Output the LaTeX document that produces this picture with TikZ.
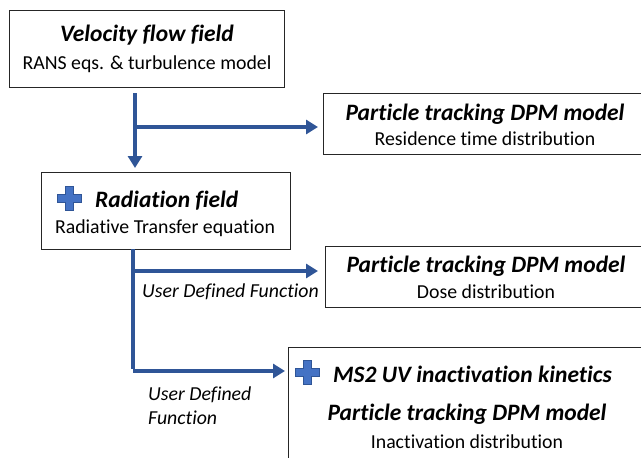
\documentclass[tikz,border=0pt]{standalone}
\usepackage{fontspec}
\setmainfont{Carlito}[Ligatures={NoCommon}]
\usetikzlibrary{arrows.meta}
\definecolor{arrowblue}{HTML}{2F5597}
\definecolor{plusfill}{HTML}{4472C4}
\tikzset{
  box/.style={draw=black!85, line width=1.3pt, fill=white, inner sep=0pt, anchor=north west},
  ttl/.style={font=\fontsize{23.5}{28}\selectfont\bfseries\itshape, inner sep=0pt},
  sub/.style={font=\fontsize{19.8}{24}\selectfont, inner sep=0pt},
  lbl/.style={font=\fontsize{19.8}{24}\selectfont\itshape, inner sep=0pt},
  flow/.style={draw=arrowblue, line width=4.2pt},
  flowarrow/.style={flow, -{Triangle[length=12pt,width=14pt]}},
  plusicon/.pic={
    \fill[plusfill, draw=arrowblue, line width=0.6pt]
      (-4,-12) -- (4,-12) -- (4,-4) -- (12,-4) -- (12,4) -- (4,4) -- (4,12)
      -- (-4,12) -- (-4,4) -- (-12,4) -- (-12,-4) -- (-4,-4) -- cycle;
  }
}
\begin{document}
\begin{tikzpicture}[x=1pt,y=-1pt]
\useasboundingbox (0,0) rectangle (641,458);
\clip (0,0) rectangle (641,458);
% boxes
\node[box, minimum width=275pt, minimum height=77pt] (b1) at (9,10) {};
\node[box, minimum width=249pt, minimum height=77pt] (b2) at (41,172) {};
\node[box, minimum width=320pt, minimum height=61pt] (b3) at (323,93) {};
\node[box, minimum width=320pt, minimum height=61pt] (b4) at (325,246) {};
\node[box, minimum width=360pt, minimum height=120pt] (b5) at (288,347) {};
% texts
\node[ttl] (t1) at (147,35) {Velocity flow field};
\node[sub] (s1) at (147,64) {RANS eqs. \& turbulence model};
\pic (p2) at (69.5,198.5) {plusicon};
\node[ttl, anchor=west] (t2) at (95,201) {Radiation field};
\node[sub] (s2) at (165,228) {Radiative Transfer equation};
\node[ttl] (t3) at (485,114) {Particle tracking DPM model};
\node[sub] (s3) at (485,139) {Residence time distribution};
\node[ttl] (t4) at (486,266) {Particle tracking DPM model};
\node[sub] (s4) at (486,292) {Dose distribution};
\pic (p5) at (307,372) {plusicon};
\node[ttl, anchor=west] (t5a) at (333,374) {MS2 UV inactivation kinetics};
\node[ttl] (t5b) at (467,414) {Particle tracking DPM model};
\node[sub] (s5) at (467,442) {Inactivation distribution};
% labels
\node[lbl, anchor=east] (l1) at (319,292) {User Defined Function};
\node[lbl, anchor=north west, align=left] (l2) at (148,387) {User Defined\\Function};
% connectors
\coordinate (c1) at (135,93);
\coordinate (c1b) at (135,127);
\draw[flowarrow, shorten >=4pt] (c1) -- (c1 |- b2.north);
\draw[flowarrow, shorten >=5pt] (c1b) -- (c1b -| b3.west);
\coordinate (c2) at (133,249);
\coordinate (c2a) at (133,271);
\coordinate (c2b) at (133,371);
\draw[flow] (c2) -- ([yshift=2.1pt]c2b);
\draw[flowarrow, shorten >=7pt] (c2a) -- (c2a -| b4.west);
\draw[flowarrow, shorten >=3pt] (c2b) -- (c2b -| b5.west);
\end{tikzpicture}
\end{document}
